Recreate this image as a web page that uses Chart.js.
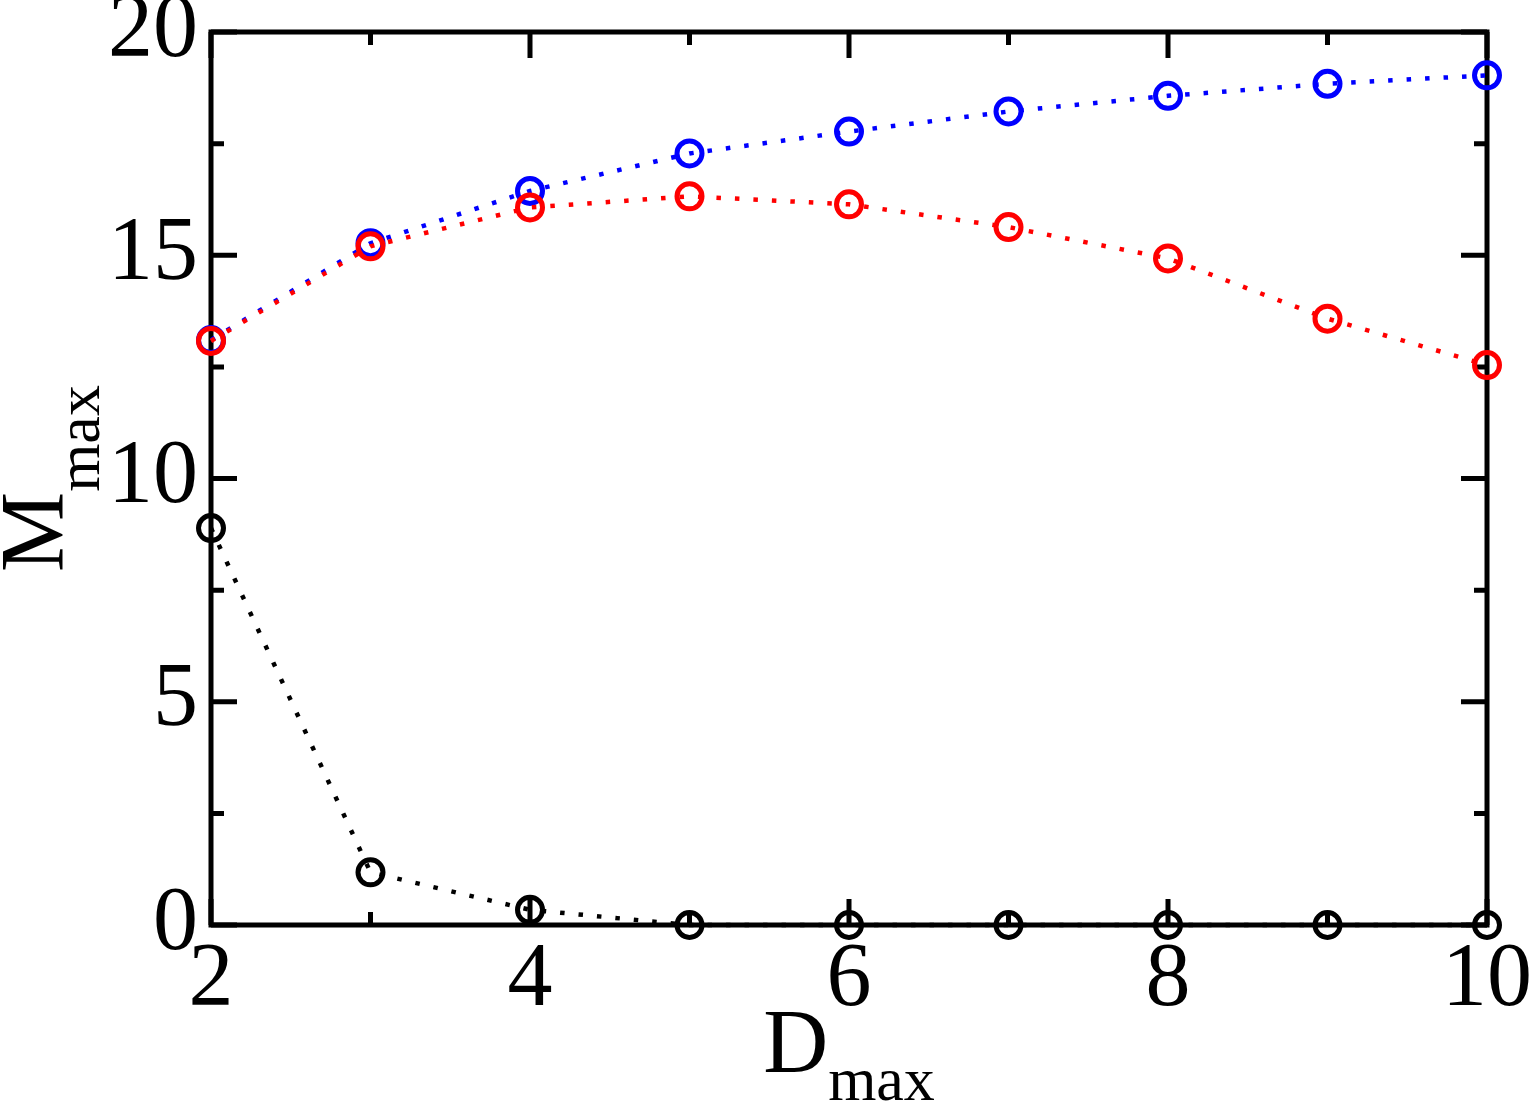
<!DOCTYPE html>
<html>
<head>
<meta charset="utf-8">
<script src="https://cdn.jsdelivr.net/npm/chart.js@4"></script>
<style>
  html, body { margin: 0; padding: 0; background: #fff; }
  #wrap { width: 1534px; height: 1111px; }
</style>
</head>
<body>
<div id="wrap"><canvas id="mChart" width="1534" height="1111"></canvas></div>
<script>
// valeurs
const dmax = [2, 3, 4, 5, 6, 7, 8, 9, 10];
const redVals = [13.08, 15.20, 16.07, 16.32, 16.14, 15.63, 14.93, 13.58, 12.54];
const blueVals = [13.10, 15.27, 16.44, 17.28, 17.77, 18.22, 18.57, 18.84, 19.03];
const blackVals = [8.89, 1.18, 0.34, 0, 0, 0, 0, 0, 0];
const xTicks = [2, 4, 6, 8, 10];
const yTicks = [0, 5, 10, 15, 20];

const serif = 'Liberation Serif';

function pts(vals) {
    return dmax.map((d, i) => ({ x: d, y: vals[i] }));
}

function serie(vals, color) {
    return {
        data: pts(vals),
        borderColor: color,
        backgroundColor: 'rgba(0,0,0,0)',
        borderWidth: 4.5,
        borderDash: [4.5, 14],
        pointRadius: 12.5,
        pointBorderWidth: 5,
        pointBorderColor: color,
        pointBackgroundColor: 'rgba(0,0,0,0)',
        tension: 0,
        clip: false
    };
}

// cadre + graduations vers l'intérieur
const framePlugin = {
    id: 'frame',
    beforeDatasetsDraw(chart) {
        const ctx = chart.ctx;
        const a = chart.chartArea;
        const xs = chart.scales.x, ys = chart.scales.y;
        ctx.save();
        ctx.strokeStyle = '#000';
        ctx.lineWidth = 5;
        ctx.lineCap = 'square';
        ctx.strokeRect(a.left, a.top, a.right - a.left, a.bottom - a.top);
        ctx.lineCap = 'butt';
        const major = 26, minor = 13;
        ctx.beginPath();
        xTicks.forEach((v, i) => {
            const px = xs.getPixelForValue(v);
            ctx.moveTo(px, a.bottom); ctx.lineTo(px, a.bottom - major);
            ctx.moveTo(px, a.top); ctx.lineTo(px, a.top + major);
            if (i < xTicks.length - 1) {
                const mx = xs.getPixelForValue((v + xTicks[i + 1]) / 2);
                ctx.moveTo(mx, a.bottom); ctx.lineTo(mx, a.bottom - minor);
                ctx.moveTo(mx, a.top); ctx.lineTo(mx, a.top + minor);
            }
        });
        yTicks.forEach((v, i) => {
            const py = ys.getPixelForValue(v);
            ctx.moveTo(a.left, py); ctx.lineTo(a.left + major, py);
            ctx.moveTo(a.right, py); ctx.lineTo(a.right - major, py);
            if (i < yTicks.length - 1) {
                const my = ys.getPixelForValue((v + yTicks[i + 1]) / 2);
                ctx.moveTo(a.left, my); ctx.lineTo(a.left + minor, my);
                ctx.moveTo(a.right, my); ctx.lineTo(a.right - minor, my);
            }
        });
        ctx.stroke();
        ctx.restore();
    }
};

// titres des axes avec indice "max"
const titlePlugin = {
    id: 'titles',
    afterDraw(chart) {
        const ctx = chart.ctx;
        const a = chart.chartArea;
        const big = '90px "' + serif + '"', small = '62px "' + serif + '"';
        ctx.save();
        ctx.fillStyle = '#000';
        ctx.textAlign = 'left';
        ctx.textBaseline = 'alphabetic';

        // axe x : D_max
        ctx.font = big;
        const wD = ctx.measureText('D').width;
        ctx.font = small;
        const wSub = ctx.measureText('max').width;
        let x0 = (a.left + a.right) / 2 - (wD + wSub) / 2;
        ctx.font = big;
        ctx.fillText('D', x0, 1072);
        ctx.font = small;
        ctx.fillText('max', x0 + wD, 1100);

        // axe y : M_max
        ctx.font = big;
        const wM = ctx.measureText('M').width;
        const cy = (a.top + a.bottom) / 2;
        ctx.translate(63, cy + (wM + wSub) / 2);
        ctx.rotate(-Math.PI / 2);
        ctx.fillText('M', 0, 0);
        ctx.font = small;
        ctx.fillText('max', wM, 36);
        ctx.restore();
    }
};

new Chart(document.getElementById('mChart'), {
    type: 'line',
    data: {
        datasets: [
            serie(redVals, '#ff0000'),
            serie(blueVals, '#0000ff'),
            serie(blackVals, '#000000')
        ]
    },
    options: {
        responsive: false,
        animation: false,
        layout: { padding: { top: 32, right: 47, left: 0, bottom: 0 } },
        plugins: {
            legend: { display: false },
            tooltip: { enabled: false }
        },
        scales: {
            x: {
                type: 'linear',
                min: 2,
                max: 10,
                afterFit(scale) {
                    scale.height = 1111 - 925;
                    scale.paddingLeft = 0;
                    scale.paddingRight = 0;
                },
                afterBuildTicks(scale) { scale.ticks = xTicks.map(v => ({ value: v })); },
                grid: { display: false, drawTicks: false },
                border: { display: false },
                ticks: {
                    color: '#000',
                    padding: 2,
                    maxRotation: 0,
                    font: { family: serif, size: 90 }
                }
            },
            y: {
                min: 0,
                max: 20,
                afterFit(scale) {
                    scale.width = 211;
                    scale.paddingTop = 0;
                    scale.paddingBottom = 0;
                },
                afterBuildTicks(scale) { scale.ticks = yTicks.map(v => ({ value: v })); },
                grid: { display: false, drawTicks: false },
                border: { display: false },
                ticks: {
                    color: '#000',
                    padding: 13,
                    font: { family: serif, size: 90 }
                }
            }
        }
    },
    plugins: [framePlugin, titlePlugin]
});
</script>
</body>
</html>
